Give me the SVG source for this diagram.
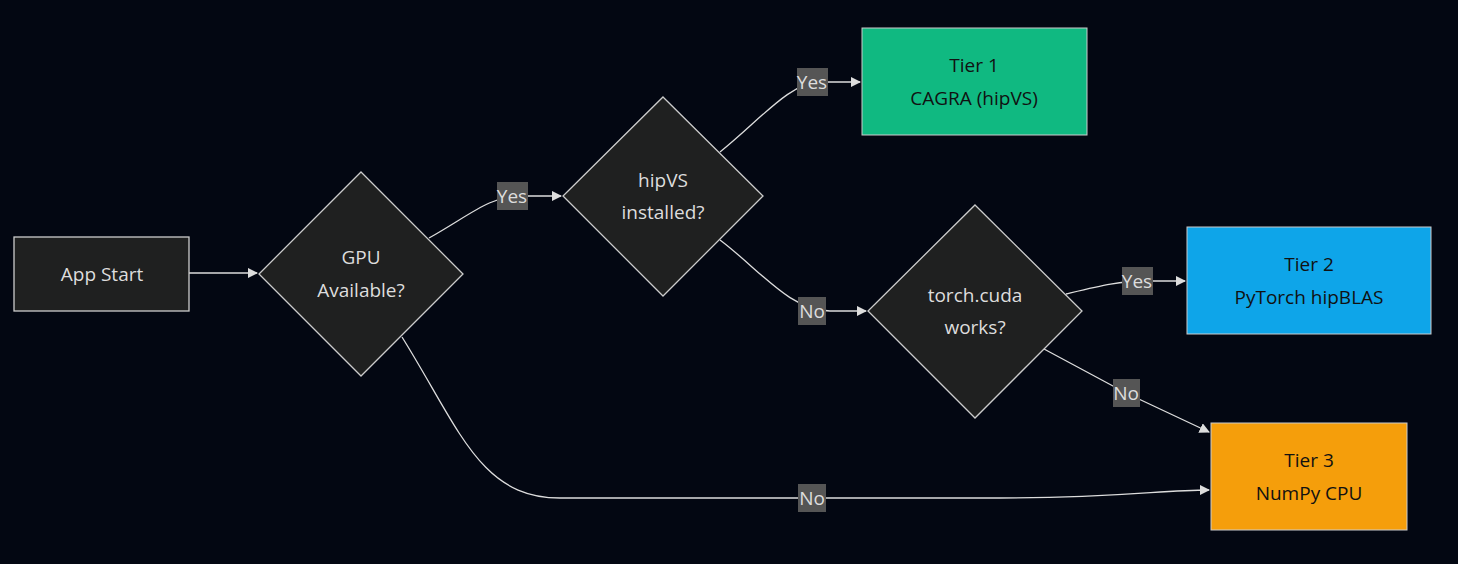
<svg xmlns="http://www.w3.org/2000/svg" width="1458" height="564" viewBox="0 0 1458 564">
<style>
.n{fill:#1f2020;stroke:#cccccc;stroke-width:1.3}
.t{font-family:"Open Sans","DejaVu Sans",sans-serif;font-size:19px;fill:#dddddd;text-anchor:middle}
.d{fill:#111111}
.e{fill:none;stroke:#dddddd;stroke-width:1.3}
.lb{fill:#555555}
.lt{font-family:"Open Sans","DejaVu Sans",sans-serif;font-size:19px;fill:#dddddd;text-anchor:middle}
</style>
<defs><marker id="a" viewBox="0 0 10 10" refX="9" refY="5" markerWidth="8" markerHeight="8" orient="auto"><path d="M0,0L10,5L0,10z" fill="#dddddd"/></marker></defs>
<rect width="1458" height="564" fill="#030712"/>
<g id="edges">
<path class="e" d="M189,273H257" marker-end="url(#a)"/>
<path class="e" d="M429,238C470,215 490,196 520,196H561" marker-end="url(#a)"/>
<path class="e" d="M720,152C760,120 790,82 820,82H860" marker-end="url(#a)"/>
<path class="e" d="M720,240C760,270 790,311 830,311H866" marker-end="url(#a)"/>
<path class="e" d="M1066,294C1100,286 1120,281 1145,281H1185" marker-end="url(#a)"/>
<path class="e" d="M1044,349L1126,393L1209,432" marker-end="url(#a)"/>
<path class="e" d="M402,337C460,430 480,498 560,498H1000C1120,498 1160,490 1209,490" marker-end="url(#a)"/>
<rect class="lb" x="497" y="182" width="31" height="28"/><text class="lt" x="512" y="203">Yes</text>
<rect class="lb" x="797" y="68" width="31" height="28"/><text class="lt" x="812" y="89">Yes</text>
<rect class="lb" x="798" y="297" width="28" height="28"/><text class="lt" x="812" y="318">No</text>
<rect class="lb" x="1122" y="267" width="31" height="28"/><text class="lt" x="1137" y="288">Yes</text>
<rect class="lb" x="1113" y="379" width="27" height="28"/><text class="lt" x="1126" y="400">No</text>
<rect class="lb" x="798" y="484" width="28" height="28"/><text class="lt" x="812" y="505">No</text>
</g>
<g id="start"><rect class="n" x="14" y="237" width="175" height="74"/><text class="t" x="102" y="281">App Start</text></g>
<g id="gpu"><polygon class="n" points="361,172 463,274 361,376 259,274"/><text class="t" x="361" y="264">GPU</text><text class="t" x="361" y="297">Available?</text></g>
<g id="hipvs"><polygon class="n" points="663,97 763,196 663,296 563,196"/><text class="t" x="663" y="187">hipVS</text><text class="t" x="663" y="219">installed?</text></g>
<g id="torch"><polygon class="n" points="975,205 1082,311 975,418 868,311"/><text class="t" x="975" y="302">torch.cuda</text><text class="t" x="975" y="334">works?</text></g>
<g id="tier1"><rect x="862" y="28" width="225" height="107" fill="#10b981" stroke="#cccccc"/><text class="t d" x="974" y="72">Tier 1</text><text class="t d" x="974" y="105">CAGRA (hipVS)</text></g>
<g id="tier2"><rect x="1187" y="227" width="244" height="107" fill="#0ea5e9" stroke="#cccccc"/><text class="t d" x="1309" y="271">Tier 2</text><text class="t d" x="1309" y="304">PyTorch hipBLAS</text></g>
<g id="tier3"><rect x="1211" y="423" width="196" height="107" fill="#f59e0b" stroke="#cccccc"/><text class="t d" x="1309" y="467">Tier 3</text><text class="t d" x="1309" y="500">NumPy CPU</text></g>
</svg>
